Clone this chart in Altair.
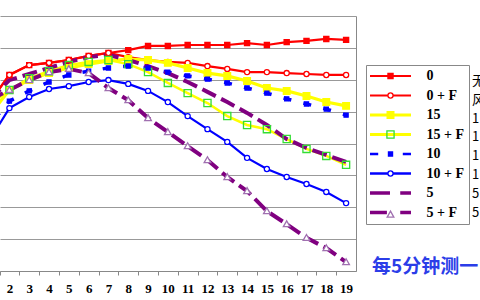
import altair as alt
import pandas as pd

# ---------------- data ----------------
CATS = [1, 2, 3, 4, 5, 6, 7, 8, 9, 10, 11, 12, 13, 14, 15, 16, 17, 18, 19]
SERIES = ["0", "0 + F", "15", "15 + F", "10", "10 + F", "5", "5 + F"]

V_0 = [53.0, 61.5, 64.6, 65.3, 66.2, 67.5, 68.4, 69.3, 70.6, 70.6, 70.9, 70.9, 70.9, 71.5, 70.9, 71.8, 72.2, 72.8, 72.5]
V_0F = [53.0, 61.5, 64.6, 65.3, 66.2, 67.5, 68.4, 67.1, 66.2, 65.6, 65.3, 64.3, 63.4, 62.4, 62.4, 62.1, 61.8, 61.5, 61.5]
V_15 = [48.9, 56.8, 59.9, 62.1, 63.7, 64.9, 65.9, 66.5, 66.2, 65.3, 63.7, 62.1, 61.2, 59.6, 57.4, 56.5, 54.9, 53.0, 51.8]
V_15F = [52.1, 56.8, 60.5, 62.7, 64.6, 65.6, 66.2, 64.9, 62.4, 59.0, 55.8, 52.7, 48.6, 45.8, 44.5, 41.4, 38.3, 36.1, 33.3]
V_10 = [45.8, 53.3, 56.5, 59.3, 61.5, 62.7, 63.7, 64.3, 63.7, 62.4, 61.2, 60.2, 59.0, 57.4, 55.8, 54.0, 52.4, 50.8, 48.9]
V_10F = [41.1, 51.1, 54.6, 57.1, 58.0, 59.3, 59.9, 58.7, 56.5, 53.0, 48.6, 44.5, 40.5, 35.5, 32.0, 29.5, 27.3, 24.8, 21.3]
V_5 = [53.6, 59.9, 61.8, 63.7, 65.6, 67.1, 67.8, 66.2, 64.3, 62.1, 59.3, 56.2, 53.0, 49.6, 45.8, 41.4, 38.6, 36.4, 34.2]
V_5F = [53.6, 56.8, 59.9, 62.4, 63.4, 62.1, 57.4, 53.6, 48.0, 43.6, 39.2, 34.8, 29.5, 25.1, 18.8, 14.7, 10.4, 7.2, 2.8]

VALUES = {"0": V_0, "0 + F": V_0F, "15": V_15, "15 + F": V_15F,
          "10": V_10, "10 + F": V_10F, "5": V_5, "5 + F": V_5F}

NOTE_LINES = ["无", "风", "1", "1", "1", "1", "5", "5"]
NOTE_BLUE = "每5分钟测一"

rows = []
for s in SERIES:
    for c, v in zip(CATS, VALUES[s]):
        rows.append({"series": s, "t": c, "v": v})
df = pd.DataFrame(rows)

# ---------------- styles ----------------
RED, YEL, BLU, PUR, GRN, LPUR = "#ff0000", "#ffff00", "#0000ff", "#800080", "#33dd33", "#a070b0"

LINE_STYLE = {
    "0": dict(color=RED, strokeWidth=2.2),
    "0 + F": dict(color=RED, strokeWidth=2.2),
    "15": dict(color=YEL, strokeWidth=3.2),
    "15 + F": dict(color=YEL, strokeWidth=2.5),
    "10": dict(color=BLU, strokeWidth=3.5, strokeDash=[8, 12.5], strokeDashOffset=13),
    "10 + F": dict(color=BLU, strokeWidth=2.2),
    "5": dict(color=PUR, strokeWidth=4, strokeDash=[15, 6]),
    "5 + F": dict(color=PUR, strokeWidth=4, strokeDash=[15, 6]),
}


def rect(x0, x1, h):
    return f"M{x0},{-h}H{x1}V{h}H{x0}Z"


def sq(h):
    return f"M{-h},{-h}H{h}V{h}H{-h}Z"


def circ(r):
    return f"M{-r},0A{r},{r} 0 1,1 {r},0A{r},{r} 0 1,1 {-r},0Z"


# legend line samples (units of sqrt(size)/2 px)
LEG_LINE = {
    "0": rect(-4, 4, 0.2),
    "0 + F": rect(-4, 4, 0.2),
    "15": rect(-4, 4, 0.3),
    "15 + F": rect(-4, 4, 0.3),
    "10": rect(-4, -2.4, 0.26) + rect(2.4, 4, 0.26),
    "10 + F": rect(-4, 4, 0.22),
    "5": rect(-4, -0.1, 0.34) + rect(1.9, 4, 0.34),
    "5 + F": rect(-4, -0.7, 0.34) + rect(1.9, 4, 0.34),
}

MARKER = {
    "0": (sq(0.5), RED, RED),
    "0 + F": (circ(0.5), RED, "white"),
    "15": (sq(0.65), YEL, YEL),
    "15 + F": (sq(0.7), GRN, "transparent"),
    "10": (sq(0.4), BLU, BLU),
    "10 + F": (circ(0.5), BLU, "white"),
    "5": ("circle", "transparent", "transparent"),
    "5 + F": ("M0,-0.65L0.65,0.5H-0.65Z", LPUR, "white"),
}

SYM_SIZE = 105

common_leg = dict(
    orient="none", legendX=366, legendY=49, title=None, padding=4,
    symbolSize=SYM_SIZE, symbolOffset=13.5, labelOffset=29, rowPadding=5.5,
    labelFont="Liberation Serif", labelFontSize=14, labelFontWeight="bold",
    labelColor="black", labelLimit=300,
)
legend_a = alt.Legend(**common_leg, strokeColor="#888888", fillColor="white",
                      symbolStrokeWidth=0, symbolOpacity=1)
legend_b = alt.Legend(**common_leg, symbolStrokeWidth=1.3, symbolOpacity=1,
                      labelOpacity=0, zindex=1)

x_enc = alt.X(
    "t:Q",
    scale=alt.Scale(domain=[1.525, 19.5], nice=False, zero=False),
    axis=alt.Axis(values=CATS[1:], title=None, grid=False, tickOffset=-9.9,
                  labelOffset=9.9, tickSize=4, tickColor="#888888",
                  domainColor="#888888", labelFont="Liberation Serif",
                  labelFontWeight="bold", labelFontSize=13, labelColor="black",
                  labelPadding=7, labelFlush=False, labelOverlap=False,
                  labelBound=False),
)
y_enc = alt.Y(
    "v:Q",
    scale=alt.Scale(domain=[0, 80], nice=False),
    axis=alt.Axis(orient="right", values=list(range(0, 81, 10)), grid=True,
                  gridColor="#999999", gridWidth=1, labels=False, ticks=False,
                  domain=True, domainColor="#888888", title=None),
)

line_layers = [
    alt.Chart(df[df.series == s]).mark_line(clip=True, **LINE_STYLE[s]).encode(x=x_enc, y=y_enc)
    for s in SERIES
]

leg_lines = alt.Chart(pd.DataFrame({"series": SERIES})).mark_point(
    filled=True, opacity=0
).encode(
    color=alt.Color("series:N", scale=alt.Scale(domain=SERIES, range=[LINE_STYLE[s]["color"] for s in SERIES]), legend=legend_a),
    shape=alt.Shape("series:N", scale=alt.Scale(domain=SERIES, range=[LEG_LINE[s] for s in SERIES]), legend=legend_a),
)

markers = alt.Chart(df).mark_point(size=SYM_SIZE, opacity=1, strokeWidth=1.3, clip=True).encode(
    x=x_enc, y=y_enc,
    stroke=alt.Stroke("series:N", scale=alt.Scale(domain=SERIES, range=[MARKER[s][1] for s in SERIES]), legend=legend_b),
    fill=alt.Fill("series:N", scale=alt.Scale(domain=SERIES, range=[MARKER[s][2] for s in SERIES]), legend=legend_b),
    shape=alt.Shape("series:N", scale=alt.Scale(domain=SERIES, range=[MARKER[s][0] for s in SERIES]), legend=legend_b),
)

one = pd.DataFrame({"a": [0]})
note_col = alt.Chart(one).mark_text(
    text=NOTE_LINES, align="left", baseline="middle", font="Noto Sans CJK SC",
    fontSize=13, lineHeight=18.8, color="black"
).encode(x=alt.value(472), y=alt.value(65))

note_blue = alt.Chart(one).mark_text(
    text=NOTE_BLUE, align="left", baseline="middle", font="Noto Sans CJK SC",
    fontWeight="bold", fontSize=19, color="#2b3de8"
).encode(x=alt.value(372), y=alt.value(251))

chart = alt.layer(*line_layers, leg_lines, markers, note_col, note_blue).resolve_scale(
    color="independent", shape="independent", stroke="independent", fill="independent"
).properties(
    width=356, height=255,
    padding={"left": 0, "top": 16, "right": 124, "bottom": 29},
    autosize=alt.AutoSizeParams(type="none"),
    background="white",
).configure_view(stroke=None)

chart.save("out.html", embed_options={"renderer": "svg", "actions": False})
